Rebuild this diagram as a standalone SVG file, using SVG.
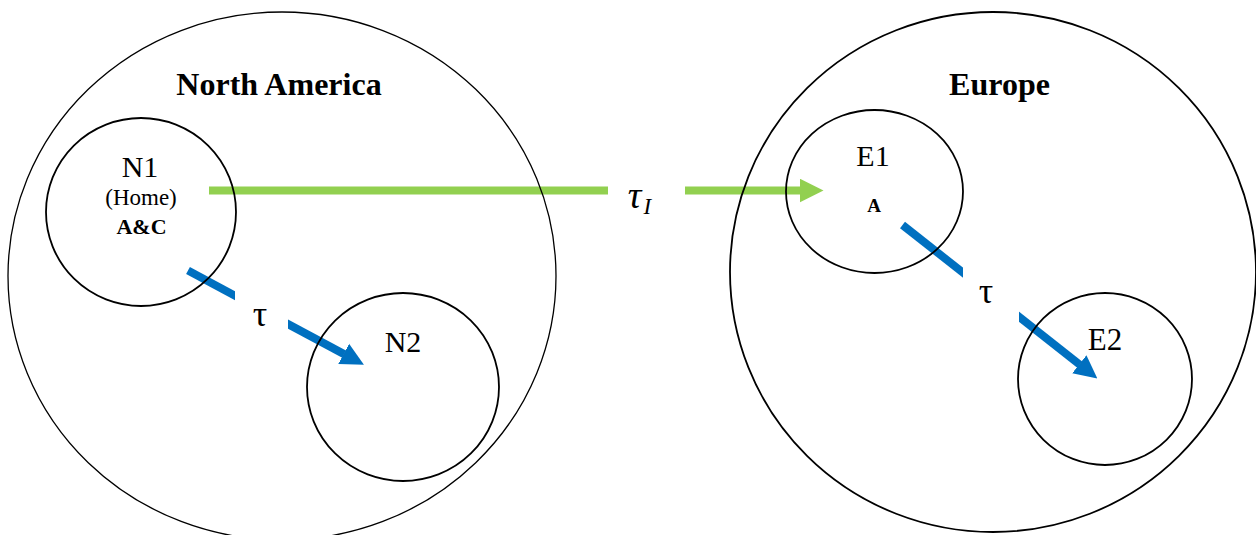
<svg xmlns="http://www.w3.org/2000/svg" width="1256" height="535" viewBox="0 0 1256 535">
<style>
.region{fill:none;stroke:#000;stroke-width:1.3}
.site{fill:none;stroke:#000;stroke-width:1.8}
.t{font-family:"Liberation Serif","Times New Roman",serif;fill:#000;text-anchor:middle}
.b{font-weight:bold}
.green{stroke:#92D050;stroke-width:8;fill:none}
.blue{stroke:#0070C0;stroke-width:8;fill:none}
</style>
<defs>
<marker id="hg" markerUnits="userSpaceOnUse" markerWidth="24" markerHeight="24" viewBox="0 -12 24 24" refX="0.5" refY="0" orient="auto"><path d="M0,-12L24,0L0,12Z" fill="#92D050"/></marker>
<marker id="hb" markerUnits="userSpaceOnUse" markerWidth="23" markerHeight="24" viewBox="0 -11.5 23 23" refX="0.5" refY="0" orient="auto"><path d="M0,-11.5L23,0L0,11.5Z" fill="#0070C0"/></marker>
<clipPath id="gaps"><path clip-rule="evenodd" d="M0,0H1256V535H0Z M608,170H685V215H608Z M235,280H288V340H235Z M963,255H1019V330H963Z"/></clipPath>
</defs>
<g id="connectors" clip-path="url(#gaps)">
<line class="green" x1="209" y1="190.5" x2="800" y2="190.5" marker-end="url(#hg)"/>
<line class="blue" x1="188" y1="270.5" x2="344.1" y2="354.1" marker-end="url(#hb)"/>
<line class="blue" x1="902.5" y1="225" x2="1079.7" y2="364.6" marker-end="url(#hb)"/>
</g>
<g id="north-america">
<ellipse class="region" cx="282" cy="276" rx="274" ry="264"/>
<text class="t b" x="279" y="95" font-size="32">North America</text>
</g>
<g id="europe">
<ellipse class="region" cx="993" cy="272" rx="263" ry="260" style="stroke-width:1.8"/>
<text class="t b" x="999.5" y="95" font-size="32">Europe</text>
</g>
<g id="N1">
<ellipse class="site" cx="141" cy="212" rx="95" ry="94"/>
<text class="t" x="140" y="177" font-size="30">N1</text>
<text class="t" x="141" y="205" font-size="23">(Home)</text>
<text class="t b" x="141.5" y="234" font-size="22">A&amp;C</text>
</g>
<g id="N2">
<ellipse class="site" cx="403" cy="387" rx="96" ry="94"/>
<text class="t" x="403" y="351.5" font-size="30">N2</text>
</g>
<g id="E1">
<ellipse class="site" cx="874.5" cy="191.5" rx="88.5" ry="81.5"/>
<text class="t" x="873" y="166" font-size="30">E1</text>
<text class="t b" x="874" y="211.5" font-size="19">A</text>
</g>
<g id="E2">
<ellipse class="site" cx="1105" cy="379" rx="87" ry="86"/>
<text class="t" x="1105" y="350" font-size="31">E2</text>
</g>
<g id="labels">
<text class="t" x="639.5" y="208" font-size="38" font-style="italic">τ<tspan font-size="23" dx="2" dy="6">I</tspan></text>
<text class="t" x="260" y="326" font-size="36">τ</text>
<text class="t" x="986" y="303" font-size="36">τ</text>
</g>
</svg>
